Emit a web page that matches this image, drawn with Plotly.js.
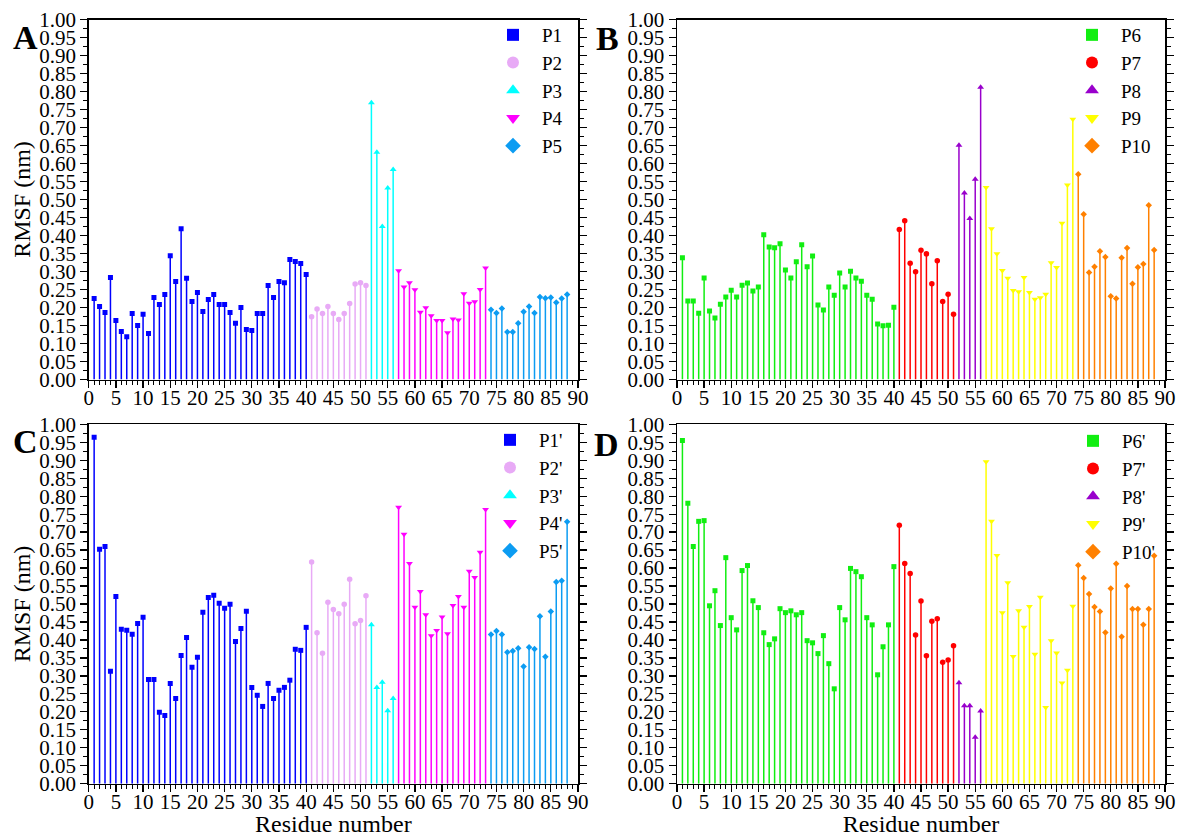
<!DOCTYPE html>
<html>
<head>
<meta charset="utf-8">
<script src="https://cdn.plot.ly/plotly-3.0.1.min.js"></script>
<style>
html,body{margin:0;padding:0;background:#fff;}
#chart{width:1178px;height:837px;}
</style>
</head>
<body>
<div id="chart"></div>
<script>
// ---------- DATA ----------
// residue ranges of each peptide segment (first residue of each)
const segStart = [1, 41, 52, 57, 74];

// Panel A
const namesA = ['P1', 'P2', 'P3', 'P4', 'P5'];
const A_P1 = [0.225,0.203,0.186,0.283,0.164,0.133,0.119,0.183,0.150,0.181,0.128,0.228,0.208,0.236,0.344,0.272,0.419,0.281,0.217,0.242,0.189,0.222,0.236,0.208,0.208,0.186,0.156,0.200,0.139,0.136,0.183,0.183,0.261,0.228,0.272,0.269,0.333,0.328,0.322,0.292];
const A_P2 = [0.174,0.196,0.183,0.203,0.183,0.167,0.183,0.211,0.265,0.269,0.261];
const A_P3 = [0.769,0.631,0.425,0.532,0.583];
const A_P4 = [0.302,0.257,0.269,0.249,0.187,0.199,0.177,0.164,0.164,0.130,0.168,0.165,0.238,0.212,0.216,0.250,0.310];
const A_P5 = [0.194,0.185,0.197,0.132,0.132,0.156,0.188,0.203,0.185,0.229,0.226,0.228,0.214,0.225,0.236];

// Panel B
const namesB = ['P6', 'P7', 'P8', 'P9', 'P10'];
const B_P6 = [0.338,0.218,0.218,0.184,0.282,0.190,0.171,0.209,0.229,0.248,0.229,0.262,0.268,0.246,0.257,0.402,0.368,0.366,0.377,0.304,0.282,0.327,0.374,0.313,0.343,0.207,0.193,0.257,0.234,0.296,0.257,0.301,0.282,0.273,0.234,0.223,0.154,0.149,0.151,0.201];
const B_P7 = [0.417,0.441,0.323,0.299,0.359,0.349,0.266,0.330,0.217,0.237,0.181];
const B_P8 = [0.651,0.518,0.447,0.556,0.812];
const B_P9 = [0.533,0.419,0.349,0.303,0.281,0.247,0.244,0.283,0.242,0.223,0.227,0.237,0.324,0.311,0.434,0.540,0.723];
const B_P10 = [0.570,0.459,0.297,0.313,0.356,0.340,0.231,0.225,0.338,0.365,0.266,0.312,0.321,0.484,0.360];

// Panel C
const namesC = ["P1'", "P2'", "P3'", "P4'", "P5'"];
const C_P1 = [0.964,0.652,0.660,0.313,0.521,0.430,0.427,0.416,0.446,0.463,0.290,0.290,0.199,0.190,0.279,0.237,0.357,0.407,0.324,0.352,0.477,0.518,0.524,0.502,0.488,0.499,0.396,0.432,0.480,0.268,0.246,0.215,0.279,0.237,0.260,0.268,0.288,0.374,0.371,0.435];
const C_P2 = [0.617,0.420,0.363,0.505,0.485,0.473,0.499,0.569,0.445,0.454,0.523];
const C_P3 = [0.442,0.268,0.282,0.203,0.237];
const C_P4 = [0.769,0.694,0.613,0.491,0.535,0.470,0.412,0.426,0.464,0.417,0.496,0.521,0.491,0.591,0.574,0.644,0.763];
const C_P5 = [0.415,0.425,0.415,0.366,0.369,0.377,0.326,0.380,0.375,0.466,0.353,0.479,0.561,0.565,0.729];

// Panel D
const namesD = ["P6'", "P7'", "P8'", "P9'", "P10'"];
const D_P6 = [0.955,0.780,0.660,0.730,0.732,0.495,0.537,0.440,0.629,0.462,0.428,0.593,0.607,0.509,0.490,0.420,0.387,0.403,0.487,0.476,0.481,0.470,0.476,0.398,0.392,0.362,0.412,0.334,0.264,0.490,0.456,0.599,0.590,0.576,0.462,0.442,0.303,0.381,0.442,0.604];
const D_P7 = [0.719,0.613,0.585,0.414,0.508,0.356,0.452,0.459,0.338,0.344,0.384];
const D_P8 = [0.281,0.217,0.217,0.129,0.202];
const D_P9 = [0.896,0.730,0.635,0.476,0.559,0.354,0.481,0.435,0.493,0.360,0.519,0.212,0.398,0.364,0.280,0.316,0.494];
const D_P10 = [0.608,0.572,0.528,0.492,0.479,0.421,0.543,0.612,0.409,0.550,0.486,0.486,0.442,0.486,0.634];

const xTickVals = [0,5,10,15,20,25,30,35,40,45,50,55,60,65,70,75,80,85,90];

// ---------- STYLE ----------
const FONT = '"Times New Roman", "Liberation Serif", Times, serif';
const colorsLeft = ['#0000FF', '#E8AAF6', '#00FFFF', '#FF00FF', '#0C9CF2'];
const colorsRight = ['#11EE11', '#FF0000', '#9900CC', '#FFFF00', '#FF8000'];
const symbols = ['square', 'circle', 'triangle-up', 'triangle-down', 'diamond'];
const sizes = [5, 5.5, 6, 6, 5];

const traces = [];
function addPanel(seriesList, names, colors, axNum, legendId) {
  const xa = axNum === 1 ? 'x' : 'x' + axNum;
  const ya = axNum === 1 ? 'y' : 'y' + axNum;
  // stems
  seriesList.forEach((vals, k) => {
    const sx = [], sy = [];
    vals.forEach((v, i) => {
      const r = segStart[k] + i;
      sx.push(r, r, null);
      sy.push(0, v, null);
    });
    traces.push({
      type: 'scatter', mode: 'lines', x: sx, y: sy, xaxis: xa, yaxis: ya,
      line: {color: colors[k], width: 1.5}, showlegend: false, hoverinfo: 'skip',
      legend: legendId
    });
  });
  // markers
  seriesList.forEach((vals, k) => {
    const mx = vals.map((v, i) => segStart[k] + i);
    traces.push({
      type: 'scatter', mode: 'markers', name: names[k], x: mx, y: vals,
      xaxis: xa, yaxis: ya, legend: legendId,
      marker: {symbol: symbols[k], size: sizes[k], color: colors[k], line: {width: 0}}
    });
  });
}

addPanel([A_P1, A_P2, A_P3, A_P4, A_P5], namesA, colorsLeft, 1, 'legend');
addPanel([B_P6, B_P7, B_P8, B_P9, B_P10], namesB, colorsRight, 2, 'legend2');
addPanel([C_P1, C_P2, C_P3, C_P4, C_P5], namesC, colorsLeft, 3, 'legend3');
addPanel([D_P6, D_P7, D_P8, D_P9, D_P10], namesD, colorsRight, 4, 'legend4');

const W = 1178, H = 837;
const px = v => v / W;
const py = v => 1 - v / H;

function xAxis(dom, anchor, withTitle) {
  const ax = {
    domain: dom, anchor: anchor, range: [0, 90], tickmode: 'array', tickvals: xTickVals,
    ticks: 'outside', ticklen: 7, tickwidth: 1.3, tickcolor: '#000', ticklabelstandoff: -8,
    showline: true, linecolor: '#000', linewidth: 1.5, mirror: true,
    showgrid: false, zeroline: false, automargin: false, fixedrange: true,
    tickfont: {family: FONT, size: 21, color: '#000'},
    minor: {dtick: 1, tick0: 0, ticks: 'outside', ticklen: 4, tickwidth: 1, tickcolor: '#000', showgrid: false}
  };
  if (withTitle) ax.title = {text: 'Residue number', font: {family: FONT, size: 24, color: '#000'}, standoff: 14};
  return ax;
}
function yAxis(dom, anchor, withTitle) {
  const ax = {
    domain: dom, anchor: anchor, range: [0, 1], tick0: 0, dtick: 0.05, tickformat: '.2f',
    ticks: 'outside', ticklen: 7, tickwidth: 1.3, tickcolor: '#000',
    showline: true, linecolor: '#000', linewidth: 1.5, mirror: 'ticks',
    showgrid: false, zeroline: false, automargin: false, fixedrange: true,
    tickfont: {family: FONT, size: 21, color: '#000'},
    minor: {dtick: 0.025, tick0: 0, ticks: 'outside', ticklen: 4, tickwidth: 1, tickcolor: '#000', showgrid: false}
  };
  if (withTitle) ax.title = {text: 'RMSF (nm)', font: {family: FONT, size: 24, color: '#000'}, standoff: 2};
  return ax;
}

const xL = [px(88.7), px(578)];
const xR = [px(677), px(1165)];
const yT = [py(379.5), py(19.5)];
const yB = [py(783.7), py(424.3)];

function legendAt(xLeft, yTop) {
  return {
    x: px(xLeft), y: py(yTop), xanchor: 'left', yanchor: 'top',
    bgcolor: 'rgba(0,0,0,0)', borderwidth: 0, itemsizing: 'constant', itemwidth: 48,
    tracegroupgap: 0, font: {family: FONT, size: 19, color: '#000'}
  };
}

function letter(t, x, y) {
  return {text: '<b>' + t + '</b>', x: px(x), y: py(y), xref: 'paper', yref: 'paper',
    xanchor: 'center', yanchor: 'middle', showarrow: false,
    font: {family: FONT, size: 34, color: '#000'}};
}

const layout = {
  width: W, height: H,
  margin: {l: 0, r: 0, t: 0, b: 0},
  paper_bgcolor: '#fff', plot_bgcolor: '#fff',
  font: {family: FONT, color: '#000'},
  xaxis: xAxis(xL, 'y', false),
  yaxis: yAxis(yT, 'x', true),
  xaxis2: xAxis(xR, 'y2', false),
  yaxis2: yAxis(yT, 'x2', false),
  xaxis3: xAxis(xL, 'y3', true),
  yaxis3: yAxis(yB, 'x3', true),
  xaxis4: xAxis(xR, 'y4', true),
  yaxis4: yAxis(yB, 'x4', false),
  legend: legendAt(484, 16),
  legend2: legendAt(1063, 16),
  legend3: legendAt(481, 421),
  legend4: legendAt(1064, 422),
  showlegend: true,
  annotations: [
    letter('A', 25, 37),
    letter('B', 607, 39),
    letter('C', 25, 441),
    letter('D', 606, 444)
  ]
};

Plotly.newPlot('chart', traces, layout, {displayModeBar: false, staticPlot: true});
</script>
</body>
</html>
